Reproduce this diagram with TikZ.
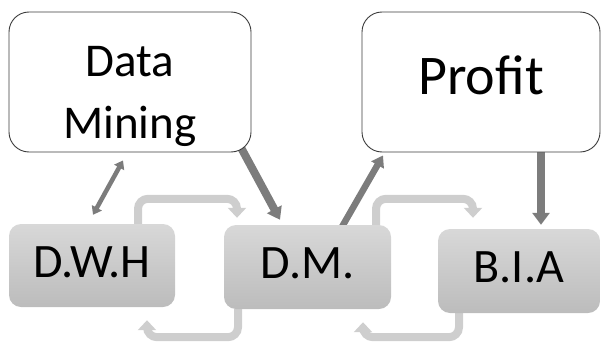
\documentclass[tikz,border=0pt]{standalone}
\usepackage{fontspec}
\setmainfont{Carlito}
\usetikzlibrary{arrows.meta,backgrounds}
\definecolor{boxtop}{RGB}{216,216,216}
\definecolor{boxbot}{RGB}{188,188,188}
\definecolor{lightarrow}{RGB}{206,206,206}
\definecolor{darkarrow}{RGB}{124,124,124}
\definecolor{frame}{RGB}{60,60,60}
\begin{document}
\begin{tikzpicture}[x=1pt,y=-1pt,
  whitebox/.style={draw=frame, line width=0.9pt, fill=white, rounded corners=20pt, inner sep=0pt},
  graybox/.style={top color=boxtop, bottom color=boxbot, draw=none, rounded corners=12pt, inner sep=0pt,
    font=\fontsize{48}{58}\selectfont, text height=31pt, text depth=8pt},
  lightarr/.style={draw=lightarrow, line width=8pt, rounded corners=10pt, -{Triangle[width=18pt,length=10pt]}},
  darkarr/.style={draw=darkarrow, -{Triangle[width=16pt,length=12pt]}}]
\useasboundingbox (0,0) rectangle (601,345);

\node[whitebox, minimum width=242pt, minimum height=140pt] (dmine) at (130,82) {};
\node[font=\fontsize{47}{62}\selectfont, align=center, inner sep=0pt] (dminetext) at (130,96) {Data\\Mining};
\node[whitebox, minimum width=238pt, minimum height=140pt,
  font=\fontsize{56}{66}\selectfont, text height=36pt, text depth=11pt] (profit) at (481,82) {Profit};

\node[graybox, minimum width=166pt, minimum height=83pt] (dwh) at (92,265.5) {D.W.H};
\node[graybox, minimum width=167pt, minimum height=84pt] (dm) at (307.5,267) {D.M.};
\node[graybox, minimum width=162pt, minimum height=84pt] (bia) at (519,271) {B.I.A};

\begin{scope}[on background layer]
  % light loop arrows
  \draw[lightarr] ([xshift=46pt]dwh.north) |- ([xshift=-70.5pt,yshift=26pt]dm.north) -- ([xshift=-70.5pt,yshift=7pt]dm.north);
  \draw[lightarr] ([xshift=-69.5pt]dm.south) |- ([xshift=55pt,yshift=-30pt]dwh.south) -- ([xshift=55pt,yshift=-13pt]dwh.south);
  \draw[lightarr] ([xshift=68.5pt]dm.north) |- ([xshift=-46pt,yshift=30pt]bia.north) -- ([xshift=-46pt,yshift=11pt]bia.north);
  \draw[lightarr] ([xshift=-60pt]bia.south) |- ([xshift=55.5pt,yshift=-28pt]dm.south) -- ([xshift=55.5pt,yshift=-13pt]dm.south);
  % dark arrows
  \draw[darkarr, line width=4.5pt, {Triangle[width=11pt,length=8pt]}-{Triangle[width=11pt,length=8pt]}]
    ([xshift=-7pt,yshift=-8pt]dmine.south) -- ([xshift=1pt,yshift=9pt]dwh.north);
  \draw[darkarr, line width=8pt] ([xshift=-10pt,yshift=4pt]dmine.south east) -- ([xshift=-27.5pt,yshift=5pt]dm.north);
  \draw[darkarr, line width=6.5pt, -{Triangle[width=14pt,length=11pt]}] ([xshift=34.5pt,yshift=-2pt]dm.north) -- ([xshift=-98pt,yshift=-3pt]profit.south);
  \draw[darkarr, line width=8pt, -{Triangle[width=17pt,length=12pt]}] ([xshift=60pt]profit.south) -- ([xshift=22pt,yshift=4pt]bia.north);
\end{scope}
\end{tikzpicture}
\end{document}
